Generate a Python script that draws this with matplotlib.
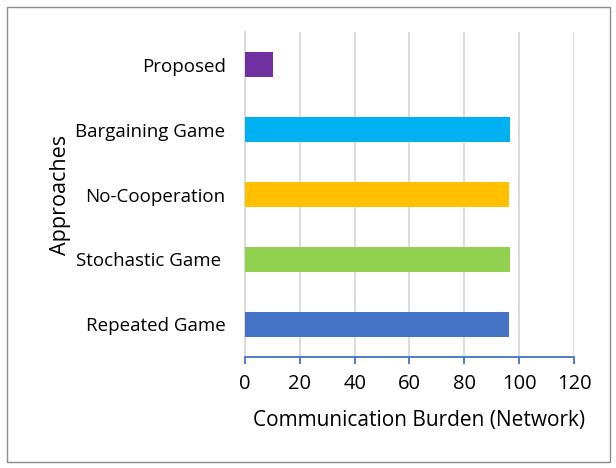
import matplotlib.pyplot as plt
from matplotlib.patches import Rectangle

plt.rcParams['font.family'] = ['Open Sans', 'DejaVu Sans']

approaches = ["Repeated Game", "Stochastic Game ", "No-Cooperation", "Bargaining Game", "Proposed"]
burden = [96.2, 96.5, 96.3, 96.5, 10.3]
colors = ["#4472C4", "#92D050", "#FFC000", "#00B0F0", "#7030A0"]

fig = plt.figure(figsize=(6.16, 4.68), dpi=100)
ax = fig.add_axes([0.3977, 0.2372, 0.5341, 0.6944])

ax.barh(range(len(approaches)), burden, height=0.37, color=colors, zorder=3)

ax.set_xlim(0, 120)
ax.set_ylim(-0.5, 4.5)
ax.set_xticks(range(0, 121, 20))
ax.set_yticks(range(len(approaches)))
ax.set_yticklabels(approaches)

ax.grid(axis='x', color='#d9d9d9', linewidth=1.3, zorder=0)
for s in ['top', 'right']:
    ax.spines[s].set_visible(False)
ax.spines['left'].set_color('#d9d9d9')
ax.spines['left'].set_linewidth(1.3)
ax.spines['bottom'].set_color('#4472C4')
ax.spines['bottom'].set_linewidth(1.3)
ax.tick_params(axis='x', colors='#4472C4', length=5, width=1.3, labelcolor='black',
               labelsize=14.5, pad=7)
ax.tick_params(axis='y', length=0, labelsize=13.5, pad=14)

ax.set_xlabel("Communication Burden (Network)", fontsize=15, labelpad=12, x=0.53)
ax.set_ylabel("Approaches", fontsize=15.5, labelpad=3)

# outer chart border
fig.patches.append(Rectangle((0.012, 0.013), 0.978, 0.972, transform=fig.transFigure,
                             fill=False, edgecolor='#8c8c8c', linewidth=1))

fig.savefig("out.png", dpi=100)
